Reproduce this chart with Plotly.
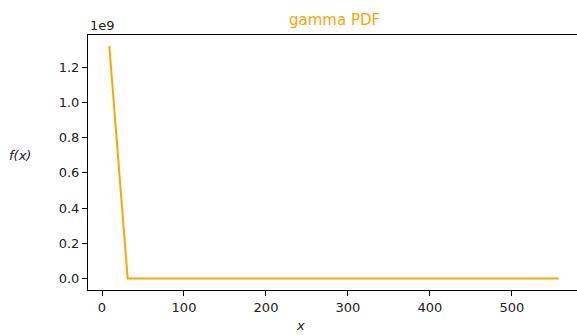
import plotly.graph_objects as go

# data
x_vals = [8.9, 31.3, 100.0, 200.0, 300.0, 400.0, 500.0, 557.0]
pdf_vals = [1.322e9, 0.0, 0.0, 0.0, 0.0, 0.0, 0.0, 0.0]
x_ticks = [0, 100, 200, 300, 400, 500]
y_ticks = [0.0, 0.2e9, 0.4e9, 0.6e9, 0.8e9, 1.0e9, 1.2e9]
y_tick_text = ["0.0", "0.2", "0.4", "0.6", "0.8", "1.0", "1.2"]

W, H = 577, 335
L, R, T, B = 88, 0, 35, 45

fig = go.Figure()
fig.add_trace(go.Scatter(x=x_vals, y=pdf_vals, mode="lines",
                         line=dict(color="#FFA500", width=2), showlegend=False,
                         hoverinfo="skip"))

font = dict(family="DejaVu Sans", size=13, color="#222222")

fig.update_layout(
    width=W, height=H,
    margin=dict(l=L, r=R, t=T, b=B, pad=0),
    plot_bgcolor="white", paper_bgcolor="white",
    font=font,
    xaxis=dict(range=[-17.07, 579.3], tickvals=x_ticks, showgrid=False, zeroline=False,
               showline=True, linecolor="black", linewidth=1, mirror=True,
               ticks="outside", ticklen=5, tickcolor="black", tickwidth=1,
               tickfont=font),
    yaxis=dict(range=[-0.066e9, 1.384e9], tickvals=y_ticks, ticktext=y_tick_text,
               showgrid=False, zeroline=False,
               showline=True, linecolor="black", linewidth=1, mirror=False,
               ticks="outside", ticklen=5, tickcolor="black", tickwidth=1,
               tickfont=font),
    annotations=[
        dict(text="gamma PDF", xref="paper", yref="paper", x=(334.5 - L) / (W - L - R),
             y=1 + (T - 20) / (H - T - B), xanchor="center", yanchor="middle",
             showarrow=False, font=dict(family="DejaVu Sans", size=15, color="#FFA500")),
        dict(text="1e9", xref="paper", yref="paper", x=0, y=1 + (T - 26) / (H - T - B),
             xanchor="left", yanchor="middle", showarrow=False,
             font=dict(family="DejaVu Sans", size=13, color="#222222")),
        dict(text="<i>f(x)</i>", xref="paper", yref="paper", x=-(L - 20) / (W - L - R),
             y=(H - B - 155) / (H - T - B), xanchor="center", yanchor="middle",
             showarrow=False, font=dict(family="DejaVu Sans", size=13, color="#222222")),
        dict(text="<i>x</i>", xref="paper", yref="paper", x=(300 - L) / (W - L - R),
             y=-(325 - (H - B)) / (H - T - B), xanchor="center", yanchor="middle",
             showarrow=False, font=dict(family="DejaVu Sans", size=13, color="#222222")),
    ],
)

fig.write_html("out.html")
